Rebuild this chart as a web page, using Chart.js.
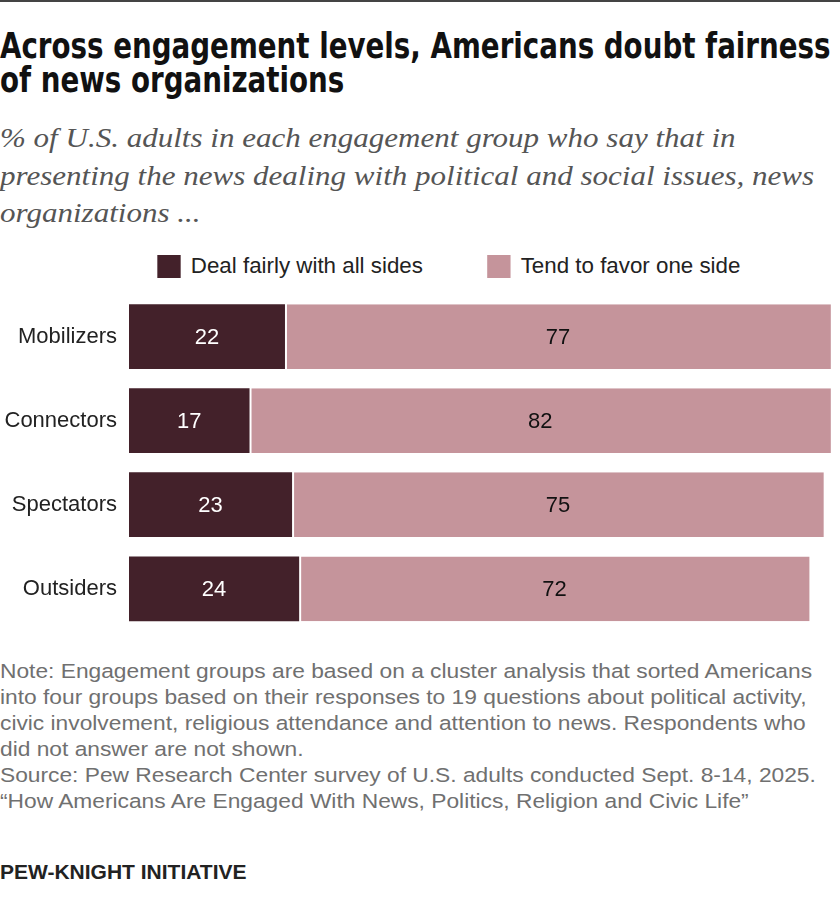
<!DOCTYPE html>
<html>
<head>
<meta charset="utf-8">
<script src="https://cdn.jsdelivr.net/npm/chart.js@4.4.1/dist/chart.umd.min.js"></script>
<style>
  body { margin: 0; background: #fff; }
  #page { position: relative; width: 840px; height: 906px; overflow: hidden; border-top: 2px solid #444; box-sizing: border-box; }
  .abs { position: absolute; left: 0; white-space: nowrap; transform-origin: left top; }
  #title { top: 27px; font-family: "DejaVu Sans Condensed", "DejaVu Sans", sans-serif; font-weight: bold; font-size: 35px; line-height: 34px; color: #111; transform: scaleX(0.88); }
  #subtitle { top: 117px; font-family: "Liberation Serif", serif; font-style: italic; font-size: 28px; line-height: 37.5px; color: #555; transform: scaleX(1.108); }
  #legend { top: 252px; font-family: "Liberation Sans", Arial, sans-serif; font-size: 22px; color: #222; transform: scaleX(1.015); }
  .lg { position: absolute; top: 0; display: flex; align-items: center; height: 24px; }
  .sw { width: 23px; height: 23px; margin-right: 10px; }
  #chartBox { position: absolute; left: 0; top: 243px; }
  #notes { top: 656px; font-family: "Liberation Sans", Arial, sans-serif; font-size: 20.5px; line-height: 26.1px; color: #707070; transform: scaleX(1.11); }
  #brand { top: 858px; font-family: "Liberation Sans", Arial, sans-serif; font-weight: bold; font-size: 21px; color: #222; }
</style>
</head>
<body>
<div id="page">
  <div id="title" class="abs">Across engagement levels, Americans doubt fairness<br>of news organizations</div>
  <div id="subtitle" class="abs">% of U.S. adults in each engagement group who say that in<br>presenting the news dealing with political and social issues, news<br>organizations ...</div>
  <div id="legend" class="abs"></div>
  <div id="chartBox"><canvas id="chart" width="840" height="411"></canvas></div>
  <div id="notes" class="abs">Note: Engagement groups are based on a cluster analysis that sorted Americans<br>into four groups based on their responses to 19 questions about political activity,<br>civic involvement, religious attendance and attention to news. Respondents who<br>did not answer are not shown.<br>Source: Pew Research Center survey of U.S. adults conducted Sept. 8-14, 2025.<br>“How Americans Are Engaged With News, Politics, Religion and Civic Life”</div>
  <div id="brand" class="abs">PEW-KNIGHT INITIATIVE</div>
</div>
<script>
// --- data ---
const groups = ['Mobilizers', 'Connectors', 'Spectators', 'Outsiders'];
const fairly = [22, 17, 23, 24];
const favor = [77, 82, 75, 72];
const seriesNames = ['Deal fairly with all sides', 'Tend to favor one side'];
const seriesColors = ['#43212a', '#c5949b'];
const labelColors = ['#ffffff', '#111111'];

// legend (html, positioned over the chart)
const legendEl = document.getElementById('legend');
const legendX = [155, 480];
seriesNames.forEach((name, i) => {
    const item = document.createElement('div');
    item.className = 'lg';
    item.style.left = legendX[i] + 'px';
    item.innerHTML = `<span class="sw" style="background:${seriesColors[i]}"></span>${name}`;
    legendEl.appendChild(item);
});

// value labels in the middle of each segment
const barLabels = {
    id: 'barLabels',
    afterDatasetsDraw(chart) {
        const ctx = chart.ctx;
        ctx.save();
        ctx.font = '22px "Liberation Sans", Arial, sans-serif';
        ctx.textAlign = 'center';
        ctx.textBaseline = 'middle';
        chart.data.datasets.forEach((ds, di) => {
            chart.getDatasetMeta(di).data.forEach((bar, i) => {
                const p = bar.getProps(['x', 'base', 'y'], true);
                ctx.fillStyle = labelColors[di];
                ctx.fillText(ds.data[i], (p.x + p.base) / 2, p.y + 1);
            });
        });
        ctx.restore();
    }
};

new Chart(document.getElementById('chart'), {
    type: 'bar',
    data: {
        labels: groups,
        datasets: [
            { label: seriesNames[0], data: fairly, backgroundColor: seriesColors[0], borderWidth: 0 },
            { label: seriesNames[1], data: favor, backgroundColor: seriesColors[1],
              borderColor: '#ffffff', borderWidth: { left: 2, right: 0, top: 0, bottom: 0 }, borderSkipped: false }
        ]
    },
    options: {
        indexAxis: 'y',
        responsive: false,
        animation: false,
        layout: { padding: { left: 0, right: 2, top: 49.5, bottom: 0 } },
        datasets: { bar: { categoryPercentage: 1, barPercentage: 0.77 } },
        scales: {
            x: { stacked: true, min: 0, max: 100, display: false },
            y: {
                stacked: true,
                grid: { display: false, drawTicks: false },
                border: { display: false },
                ticks: { color: '#222', padding: 12, font: { family: '"Liberation Sans", Arial, sans-serif', size: 22 } },
                afterFit(scale) { scale.width = 129; }
            }
        },
        plugins: {
            legend: { display: false },
            tooltip: { enabled: false }
        }
    },
    plugins: [barLabels]
});
</script>
</body>
</html>
